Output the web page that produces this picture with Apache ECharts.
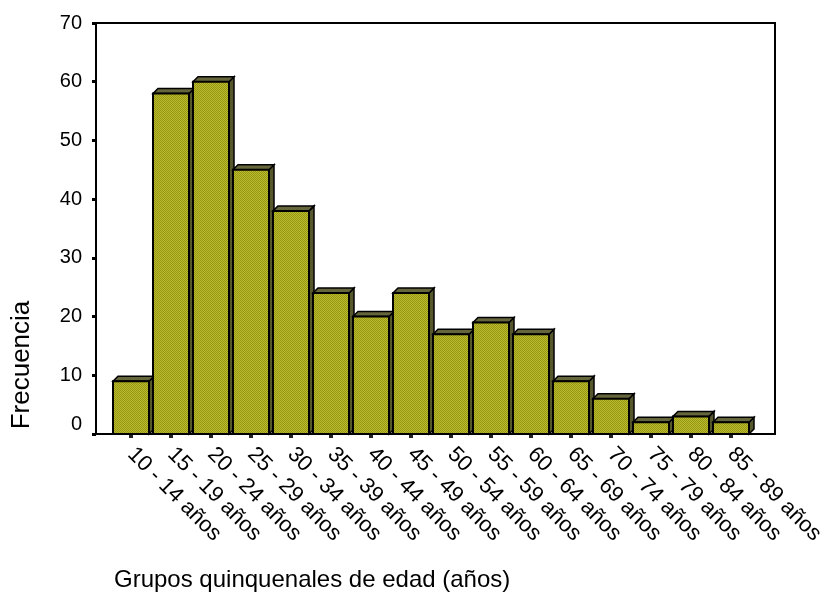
<!DOCTYPE html>
<html>
<head>
<meta charset="utf-8">
<script src="https://cdn.jsdelivr.net/npm/echarts@6/dist/echarts.min.js"></script>
<style>
  html, body { margin: 0; padding: 0; background: #fff; }
  #chart { width: 832px; height: 610px; }
</style>
</head>
<body>
<div id="chart"></div>
<script>
// Age groups (five-year bands) and their frequencies
const categories = [
  '10 - 14 años', '15 - 19 años', '20 - 24 años', '25 - 29 años',
  '30 - 34 años', '35 - 39 años', '40 - 44 años', '45 - 49 años',
  '50 - 54 años', '55 - 59 años', '60 - 64 años', '65 - 69 años',
  '70 - 74 años', '75 - 79 años', '80 - 84 años', '85 - 89 años'
];
const frecuencia = [9, 58, 60, 45, 38, 24, 20, 24, 17, 19, 17, 9, 6, 2, 3, 2];
const yMin = 0, yMax = 70, yStep = 10;

const FONT = '"Liberation Sans", Arial, sans-serif';

// Fine olive hatch used for the bar faces
function makeHatch() {
  const c = document.createElement('canvas');
  c.width = 4; c.height = 4;
  const g = c.getContext('2d');
  g.fillStyle = '#98980f';
  g.fillRect(0, 0, 4, 4);
  g.fillStyle = '#b9b934';
  for (let i = 0; i < 4; i++) {
    g.fillRect(i, (3 - i) % 4, 1, 1);
    g.fillRect(i, (5 - i) % 4, 1, 1);
  }
  return c;
}
const hatch = { image: makeHatch(), repeat: 'repeat' };

const chart = echarts.init(document.getElementById('chart'), null, { renderer: 'canvas' });

const gridTop = 23, gridBottom = 176;

chart.setOption({
  animation: false,
  backgroundColor: '#fff',
  grid: [
    { left: 96, right: 57, top: gridTop, bottom: gridBottom, show: true,
      borderColor: '#000', borderWidth: 2, backgroundColor: 'transparent' },
    { left: 111, width: 640, top: gridTop, bottom: gridBottom }
  ],
  xAxis: [
    { type: 'value', gridIndex: 0, min: 0, max: 1,
      axisLine: { show: true, lineStyle: { color: '#000', width: 2 } },
      axisTick: { show: false }, axisLabel: { show: false }, splitLine: { show: false } },
    { type: 'category', gridIndex: 1, data: categories, boundaryGap: true,
      axisLine: { show: false },
      axisTick: { show: true, alignWithLabel: true, length: 4, lineStyle: { color: '#222', width: 4 } },
      axisLabel: { interval: 0, rotate: -45, margin: 17, color: '#000', fontSize: 22, fontFamily: FONT },
      splitLine: { show: false } }
  ],
  yAxis: [
    { type: 'value', gridIndex: 0, min: yMin, max: yMax, interval: yStep,
      axisLine: { show: true, lineStyle: { color: '#000', width: 2 } },
      axisTick: { show: true, length: 4, lineStyle: { color: '#000', width: 3 } },
      axisLabel: {
        margin: 14, color: '#000', fontSize: 20, fontFamily: FONT,
        formatter: v => v === 0 ? '{z|0}' : String(v),
        rich: { z: { fontSize: 20, fontFamily: FONT, color: '#000', padding: [0, 0, 20, 0] } }
      },
      splitLine: { show: false } },
    { type: 'value', gridIndex: 1, min: yMin, max: yMax, interval: yStep, show: false }
  ],
  series: [{
    type: 'custom',
    xAxisIndex: 1,
    yAxisIndex: 1,
    data: frecuencia.map((v, i) => [i, v]),
    renderItem: function (params, api) {
      const idx = api.value(0);
      const top = api.coord([idx, api.value(1)]);
      const base = api.coord([idx, 0]);
      const w = api.size([1, 0])[0] * 0.9;
      const x0 = top[0] - w / 2, x1 = x0 + w;
      const d = 5;
      return {
        type: 'group',
        children: [
          { type: 'polygon',
            shape: { points: [[x1, top[1]], [x1 + d, top[1] - d], [x1 + d, base[1] - d], [x1, base[1]]] },
            style: { fill: '#57572e', stroke: '#000', lineWidth: 1.5 } },
          { type: 'polygon',
            shape: { points: [[x0, top[1]], [x0 + d, top[1] - d], [x1 + d, top[1] - d], [x1, top[1]]] },
            style: { fill: '#66663c', stroke: '#000', lineWidth: 1.5 } },
          { type: 'rect',
            shape: { x: x0, y: top[1], width: w, height: base[1] - top[1] },
            style: { fill: hatch, stroke: '#000', lineWidth: 2 } }
        ]
      };
    }
  }],
  graphic: [
    { type: 'text', x: 22, y: 365, rotation: Math.PI / 2,
      style: { text: 'Frecuencia', fontSize: 26, fontFamily: FONT, fill: '#000',
               align: 'center', verticalAlign: 'middle' } },
    { type: 'text', left: 114, top: 568,
      style: { text: 'Grupos quinquenales de edad (años)', fontSize: 24, fontFamily: FONT, fill: '#000' } }
  ]
});
</script>
</body>
</html>
